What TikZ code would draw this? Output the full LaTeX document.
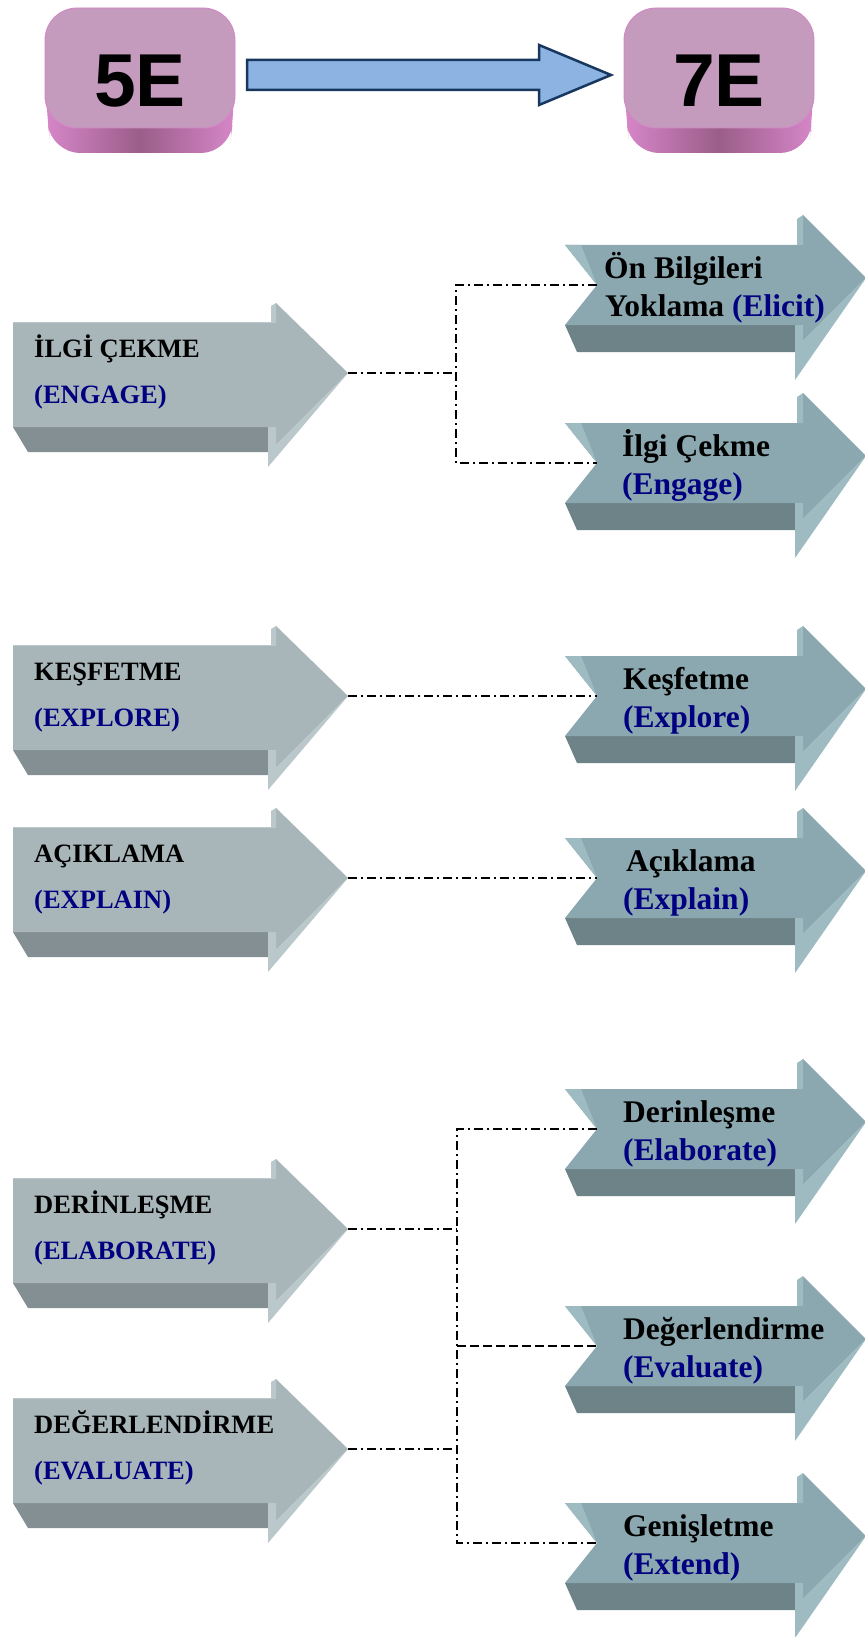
\documentclass[tikz,border=0pt]{standalone}
\usepackage{fontspec}
\setmainfont{Liberation Serif}
\newfontfamily\hsans{Liberation Sans}
\usetikzlibrary{calc}
\definecolor{boxtop}{RGB}{196,154,189}
\definecolor{boxside}{RGB}{154,94,137}
\definecolor{boxedge}{RGB}{214,134,200}
\definecolor{arrowblue}{RGB}{141,179,226}
\definecolor{arrownavy}{RGB}{23,55,94}
\definecolor{lfront}{RGB}{168,182,186}
\definecolor{lslab}{RGB}{132,143,147}
\definecolor{llight}{RGB}{186,200,204}
\definecolor{rfront}{RGB}{139,168,176}
\definecolor{rslab}{RGB}{110,131,135}
\definecolor{rlight}{RGB}{158,187,194}
\definecolor{navytext}{RGB}{0,0,128}
\tikzset{
 conn/.style={line width=1.8pt, dash pattern=on 9pt off 4pt on 2pt off 4pt},
 connd/.style={line width=1.8pt, dash pattern=on 9pt off 4pt},
 ltext/.style={anchor=base west, inner sep=0pt, font=\fontsize{26.5}{30}\selectfont\bfseries},
 rtext/.style={anchor=base west, inner sep=0pt, font=\fontsize{31.5}{36}\selectfont\bfseries},
 etext/.style={inner sep=0pt, font=\hsans\fontsize{75}{80}\selectfont\bfseries},
 ebox/.style={draw=boxedge, fill=boxtop, rounded corners=32pt, minimum width=190pt, minimum height=120pt, inner sep=0pt, line width=0.8pt},
}
\newcommand\LArrowShape[2]{%
 \begin{scope}[shift={(0,{#1-373})}]
  \fill[lslab] (13,427) -- (268,427) -- (268,452) -- (28,452) -- cycle;
  \fill[lfront] (13,322) -- (276,322) -- (276,303) -- (348,373) -- (276,445) -- (276,427) -- (13,427) -- cycle;
  \fill[llight] (348,373) -- (276,445) -- (276,427) -- (268,427) -- (268,467) -- cycle;
  \fill[llight] (271,322) -- (271,306) -- (276,303) -- (276,322) -- cycle;
  \draw[llight, line width=1pt] (13,322.5) -- (276,322.5);
  \coordinate (#2) at (348,373);
 \end{scope}}
\newcommand\RArrowShape[2]{%
 \begin{scope}[shift={(0,{#1-285})}]
  \fill[rslab] (565,325) -- (795,325) -- (795,352) -- (577,352) -- cycle;
  \fill[rfront] (565,245) -- (803,245) -- (803,215) -- (866,278) -- (803,341) -- (803,325) -- (565,325) -- (597,285) -- cycle;
  \fill[rlight] (866,278) -- (803,341) -- (803,325) -- (795,325) -- (795,380) -- cycle;
  \fill[rlight] (797,245) -- (797,219) -- (803,215) -- (803,245) -- cycle;
  \fill[rlight] (565,245) -- (581,245) -- (597,285) -- cycle;
  \coordinate (#2) at (597,285);
 \end{scope}}
\begin{document}
\begin{tikzpicture}[x=1pt,y=-1pt]
\fill[white] (0,0) rectangle (864,1637);
\useasboundingbox (0,0) rectangle (864,1637);

% top boxes
\shade[left color=boxedge, right color=boxedge, middle color=boxside, rounded corners=28pt]
  (46,50) -- (46,112) -- (52,153) -- (229,153) -- (234,112) -- (234,50) -- cycle;
\node[ebox] (b5) at (140,68) {};
\node[etext] (t5) at (140,81) {5E};
\shade[left color=boxedge, right color=boxedge, middle color=boxside, rounded corners=28pt]
  (625,50) -- (625,112) -- (631,153) -- (808,153) -- (813,112) -- (813,50) -- cycle;
\node[ebox] (b7) at (719,68) {};
\node[etext] (t7) at (719,81) {7E};

% block arrow between the boxes
\coordinate (as) at (247,75);
\coordinate (ae) at (611,75);
\draw[arrownavy, fill=arrowblue, line width=2.5pt, line join=miter]
  ($(as)+(0,-15)$) -- ($(ae)+(-72,-15)$) -- ($(ae)+(-72,-30)$) -- (ae)
  -- ($(ae)+(-72,30)$) -- ($(ae)+(-72,15)$) -- ($(as)+(0,15)$) -- cycle;

% left (5E) arrows
\LArrowShape{373}{L1}
\LArrowShape{696}{L2}
\LArrowShape{878}{L3}
\LArrowShape{1229}{L4}
\LArrowShape{1449}{L5}

% right (7E) arrows
\RArrowShape{285}{R1}
\RArrowShape{463}{R2}
\RArrowShape{696}{R3}
\RArrowShape{878}{R4}
\RArrowShape{1129}{R5}
\RArrowShape{1346}{R6}
\RArrowShape{1543}{R7}

% left texts
\node[ltext] (l1a) at (34,357) {İLGİ ÇEKME};
\node[ltext, text=navytext] (l1b) at (34,403) {(ENGAGE)};
\node[ltext] (l2a) at (34,680) {KEŞFETME};
\node[ltext, text=navytext] (l2b) at (34,726) {(EXPLORE)};
\node[ltext] (l3a) at (34,862) {AÇIKLAMA};
\node[ltext, text=navytext] (l3b) at (34,908) {(EXPLAIN)};
\node[ltext] (l4a) at (34,1213) {DERİNLEŞME};
\node[ltext, text=navytext] (l4b) at (34,1259) {(ELABORATE)};
\node[ltext] (l5a) at (34,1433) {DEĞERLENDİRME};
\node[ltext, text=navytext] (l5b) at (34,1479) {(EVALUATE)};

% right texts
\node[rtext] (r1a) at (604,278) {Ön Bilgileri};
\node[rtext] (r1b) at (605,316) {Yoklama \textcolor{navytext}{(Elicit)}};
\node[rtext] (r2a) at (622,456) {İlgi Çekme};
\node[rtext, text=navytext] (r2b) at (622,494) {(Engage)};
\node[rtext] (r3a) at (623,689) {Keşfetme};
\node[rtext, text=navytext] (r3b) at (623,727) {(Explore)};
\node[rtext] (r4a) at (626,871) {Açıklama};
\node[rtext, text=navytext] (r4b) at (623,909) {(Explain)};
\node[rtext] (r5a) at (623,1122) {Derinleşme};
\node[rtext, text=navytext] (r5b) at (623,1160) {(Elaborate)};
\node[rtext] (r6a) at (623,1339) {Değerlendirme};
\node[rtext, text=navytext] (r6b) at (623,1377) {(Evaluate)};
\node[rtext] (r7a) at (623,1536) {Genişletme};
\node[rtext, text=navytext] (r7b) at (623,1574) {(Extend)};

% connectors
\coordinate (vx1) at (456,0);
\coordinate (vx2) at (457,0);
\draw[conn] (L1) -- (L1 -| vx1);
\draw[conn] (R1) -- (R1 -| vx1) -- (R2 -| vx1) -- (R2);
\draw[conn] (L2) -- (R3);
\draw[conn] (L3) -- (R4);
\draw[conn] (L4) -- (L4 -| vx2);
\draw[conn] (L5) -- (L5 -| vx2);
\draw[conn] (R5) -- (R5 -| vx2) -- (R7 -| vx2) -- (R7);
\draw[connd] (R6 -| vx2) -- (R6);
\end{tikzpicture}
\end{document}
